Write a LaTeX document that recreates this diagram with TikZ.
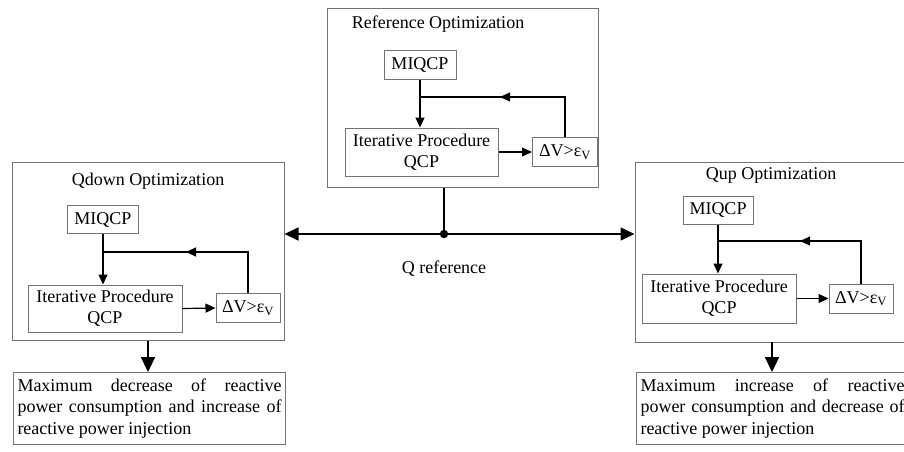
\documentclass[tikz,border=0pt]{standalone}
\usepackage{fontspec}
\setmainfont{Liberation Serif}
\usetikzlibrary{arrows.meta,calc}
\begin{document}
\begin{tikzpicture}[x=1pt,y=-1pt,
 box/.style={draw=black!55,line width=1pt,rectangle,inner sep=0pt,align=center,font=\fontsize{18}{21}\selectfont},
 outer/.style={draw=black!55,line width=1pt,rectangle,inner sep=0pt},
 con/.style={line width=1.2pt,-{Triangle[length=10pt,width=9pt]}},
 plain/.style={line width=1.2pt},
 big/.style={line width=2.2pt,-{Triangle[length=15pt,width=14pt]}},
 mid/.style={line width=1.6pt,-{Triangle[length=14pt,width=13pt]}},
 lbl/.style={font=\fontsize{18}{21}\selectfont,inner sep=0pt},
 res/.style={draw=black!55,line width=1pt,text width=264pt,align=justify,inner xsep=4pt,inner ysep=6pt,anchor=north west,font=\fontsize{18}{21.5}\selectfont}]
\useasboundingbox (0,0) rectangle (904,451);

% Reference optimization
\node[outer,minimum width=271pt,minimum height=179pt] (R) at (462.5,97.5) {};
\node[lbl] (tR) at (438,24) {Reference Optimization};
\node[box,minimum width=72pt,minimum height=29pt] (miqR) at (420,64.5) {MIQCP};
\node[box,minimum width=153pt,minimum height=48pt] (itR) at (421.5,152) {Iterative Procedure\\QCP};
\node[box,minimum width=65pt,minimum height=29pt] (dvR) at (565,152) {ΔV>ε\textsubscript{V}};
\coordinate (jR) at (420,97);
\coordinate (aR) at (500,97);
\draw[con] (miqR.south) -- (miqR.south |- itR.north);
\draw[con] (itR.east) -- (dvR.west);
\draw[plain] (dvR.north) |- (jR);
\draw[con] (dvR.north |- jR) -- (aR);

% Qdown optimization
\node[outer,minimum width=272pt,minimum height=178pt] (D) at (148,251) {};
\node[lbl] (tD) at (148,181) {Qdown Optimization};
\node[box,minimum width=71pt,minimum height=28pt] (miqD) at (103,219.5) {MIQCP};
\node[box,minimum width=154pt,minimum height=47pt] (itD) at (105,308.5) {Iterative Procedure\\QCP};
\node[box,minimum width=64pt,minimum height=29pt] (dvD) at (248,308) {ΔV>ε\textsubscript{V}};
\coordinate (jD) at (103,252);
\coordinate (aD) at (186,252);
\draw[con] (miqD.south) -- (miqD.south |- itD.north);
\draw[con] (itD.east) -- (dvD.west);
\draw[plain] (dvD.north) |- (jD);
\draw[con] (dvD.north |- jD) -- (aD);
\node[res] (resD) at (13,372) {Maximum decrease of reactive\linebreak power consumption and increase of\linebreak reactive power injection};
\draw[big] (D.south) -- (D.south |- resD.north);

% Qup optimization
\node[outer,minimum width=275pt,minimum height=180pt] (U) at (772.5,252) {};
\node[lbl] (tU) at (771,175) {Qup Optimization};
\node[box,minimum width=70pt,minimum height=28pt] (miqU) at (718,210) {MIQCP};
\node[box,minimum width=154pt,minimum height=49pt] (itU) at (719,298.5) {Iterative Procedure\\QCP};
\node[box,minimum width=64pt,minimum height=29pt] (dvU) at (861,298.5) {ΔV>ε\textsubscript{V}};
\coordinate (jU) at (718,241);
\coordinate (aU) at (800,241);
\draw[con] (miqU.south) -- (miqU.south |- itU.north);
\draw[con] (itU.east) -- (dvU.west);
\draw[plain] (dvU.north) |- (jU);
\draw[con] (dvU.north |- jU) -- (aU);
\node[res] (resU) at (636,372) {Maximum increase of reactive\linebreak power consumption and decrease of\linebreak reactive power injection};
\coordinate (tipU) at (772,342);
\draw[big] (tipU) -- (tipU |- resU.north);

% Q reference
\coordinate (dot) at (444,234);
\draw[plain] (dot |- R.south) -- (dot);
\draw[mid] (dot) -- (D.east |- dot);
\draw[mid] (dot) -- (U.west |- dot);
\fill (dot) circle (4.2pt);
\node[lbl] (qref) at (444,269) {Q reference};
\end{tikzpicture}
\end{document}
